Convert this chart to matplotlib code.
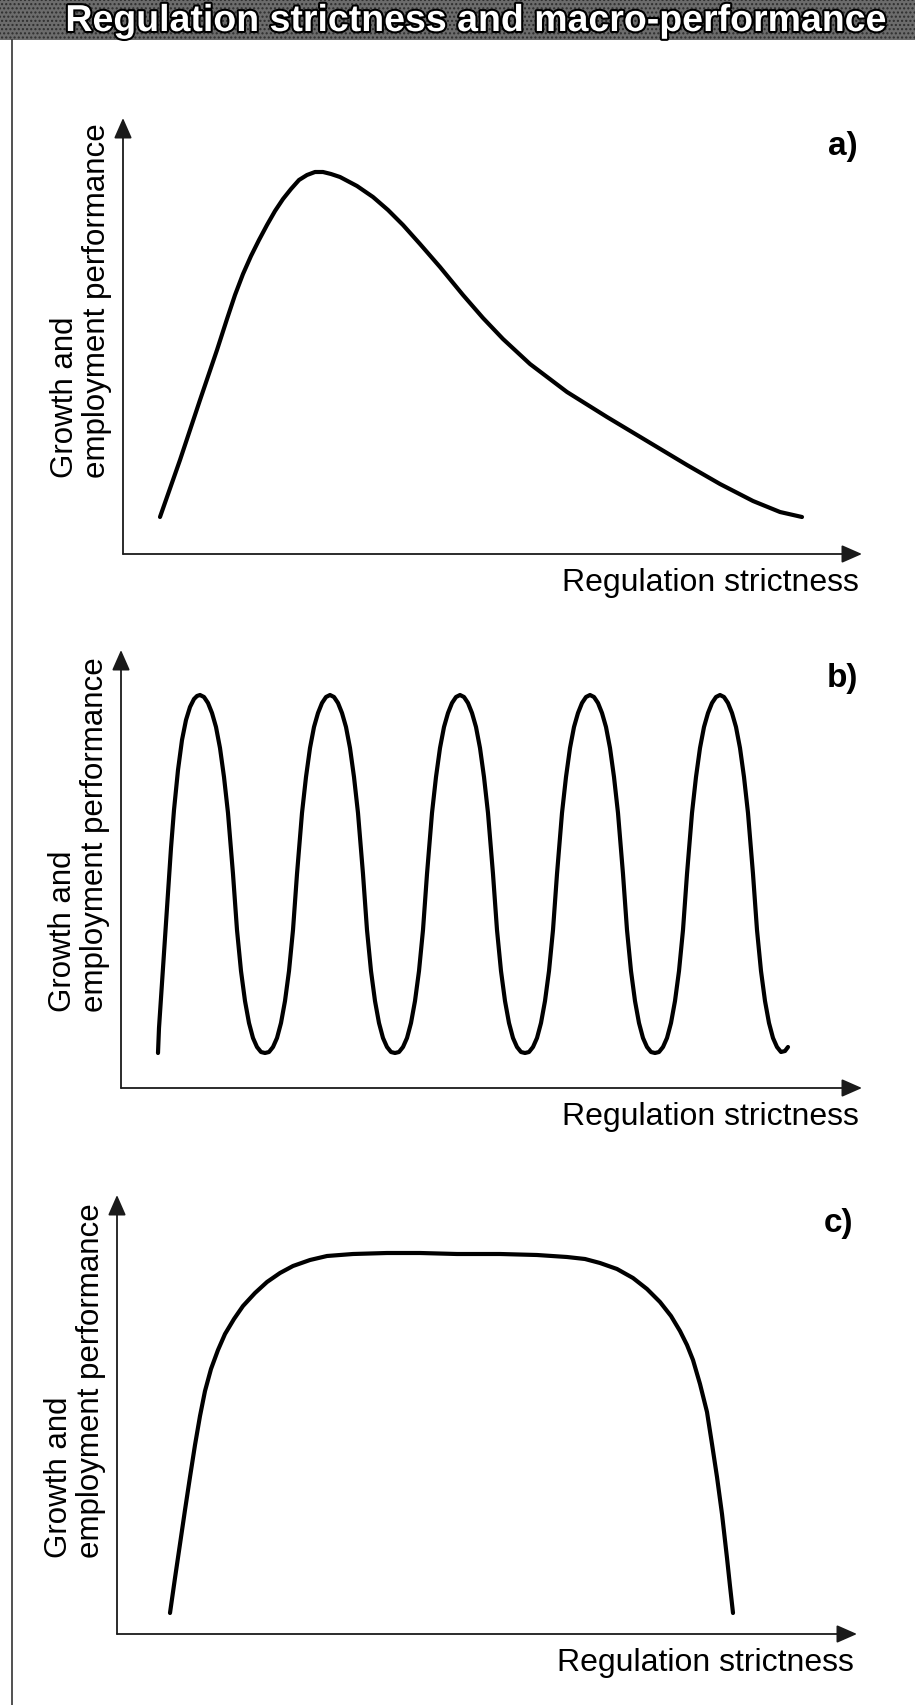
import matplotlib
matplotlib.use("Agg")
import matplotlib.pyplot as plt
import matplotlib.patheffects as pe
from matplotlib.patches import Rectangle
from matplotlib.lines import Line2D

plt.rcParams['font.family'] = ['Liberation Sans', 'DejaVu Sans']

W, H = 915, 1705

title = "Regulation strictness and macro-performance"
x_label = "Regulation strictness"
y_label = "Growth and\nemployment performance"
panel_names = ["a)", "b)", "c)"]

# curve a: rises fast, peaks early, long decline
a_x = [37, 57, 77, 94, 104, 112, 120, 128, 136, 144, 152, 160, 168, 176, 184,
       192, 200, 208, 217, 234, 250, 265, 280, 297, 317, 340, 360, 380, 407,
       444, 484, 524, 564, 597, 630, 657, 679]
a_y = [37, 94, 154, 204, 235, 259, 280, 298, 314, 329, 343, 355, 365, 374, 379,
       382, 382, 380, 377, 368, 357, 344, 329, 310, 287, 259, 236, 215, 190,
       162, 137, 113, 89, 70, 53, 42, 37]

# curve b: five up-and-down waves
b_x = [37, 38, 40, 42, 44, 47, 50, 53, 57, 61, 65, 69, 73, 76, 79,
       83, 87, 91, 95, 99, 103, 107, 112, 116, 120, 124, 128, 132, 136, 140, 144,
       148, 152, 156, 160, 164, 168, 172, 176, 181, 185, 189, 193, 197, 201, 205, 209,
       213, 217, 221, 225, 229, 233, 237, 242, 246, 250, 254, 258, 262, 266, 270, 274,
       278, 282, 286, 290, 294, 298, 302, 306, 311, 315, 319, 323, 327, 331, 335, 339,
       343, 347, 351, 355, 359, 363, 367, 372, 376, 380, 384, 388, 392, 396, 400, 404,
       408, 412, 416, 420, 424, 428, 432, 436, 441, 445, 449, 453, 457, 461, 465, 469,
       473, 477, 481, 485, 489, 493, 497, 502, 506, 510, 514, 518, 522, 526, 530, 534,
       538, 542, 546, 550, 554, 558, 562, 566, 571, 575, 579, 583, 587, 591, 595, 599,
       603, 607, 611, 615, 619, 623, 627, 632, 636, 640, 644, 648, 652, 656, 660, 664, 667]
b_y = [35, 60, 90, 120, 150, 195, 240, 278, 318, 348, 368, 381, 389, 392, 393,
       391, 385, 375, 361, 340, 311, 275, 214, 158, 117, 87, 65, 50, 41, 36, 35,
       36, 41, 50, 65, 87, 117, 158, 214, 275, 311, 340, 361, 375, 385, 391, 393,
       391, 385, 375, 361, 340, 311, 275, 214, 158, 117, 87, 65, 50, 41, 36, 35,
       36, 41, 50, 65, 87, 117, 158, 214, 275, 311, 340, 361, 375, 385, 391, 393,
       391, 385, 375, 361, 340, 311, 275, 214, 158, 117, 87, 65, 50, 41, 36, 35,
       36, 41, 50, 65, 87, 117, 158, 214, 275, 311, 340, 361, 375, 385, 391, 393,
       391, 385, 375, 361, 340, 311, 275, 214, 158, 117, 87, 65, 50, 41, 36, 35,
       36, 41, 50, 65, 87, 117, 158, 214, 275, 311, 340, 361, 375, 385, 391, 393,
       391, 385, 375, 361, 340, 311, 275, 214, 158, 117, 87, 65, 50, 41, 36, 37, 41]

# curve c: steep rise, long plateau, steep fall
c_x = [53, 58, 63, 68, 73, 78, 83, 88, 94, 101, 108, 117, 126, 138, 150, 163,
       176, 193, 210, 236, 270, 303, 340, 383, 420, 450, 468, 483, 500, 516,
       530, 543, 554, 563, 570, 576, 583, 590, 595, 600, 605, 610, 613, 616]
c_y = [21, 56, 90, 124, 157, 189, 218, 243, 265, 284, 300, 315, 328, 341, 352, 361,
       368, 374, 378, 380, 381, 381, 380, 380, 379, 377, 375, 371, 365, 356,
       345, 332, 318, 303, 289, 274, 250, 222, 190, 157, 120, 76, 48, 21]

fig = plt.figure(figsize=(W / 100, H / 100), dpi=100)
fig.patch.set_facecolor('white')

# title band
fig.patches.append(Rectangle((0, (H - 40) / H), 1, 40 / H, transform=fig.transFigure,
                             facecolor='#6c6c6c', edgecolor='#2e2e2e', hatch='....',
                             linewidth=0))
t = fig.text(476 / W, (H - 31) / H, title, ha='center', va='baseline', color='white',
             fontsize=27, fontweight='bold')
t.set_path_effects([pe.withStroke(linewidth=3, foreground='black')])

# left frame line
fig.add_artist(Line2D([12 / W, 12 / W], [0, (H - 40) / H], color='#222222', lw=1.1))


def draw_panel(ox, oy, tip_y, tip_x, xs, ys, name):
    pw, ph = 780, 470
    ax = fig.add_axes([ox / W, (H - oy) / H, pw / W, ph / H])
    ax.set_xlim(0, pw)
    ax.set_ylim(0, ph)
    ax.axis('off')
    arrow = dict(arrowstyle='-|>,head_length=0.5,head_width=0.22', color='#1a1a1a',
                 lw=1.3, mutation_scale=25, shrinkA=0, shrinkB=0)
    ax.annotate('', xy=(0, tip_y), xytext=(0, 0), arrowprops=arrow, annotation_clip=False)
    ax.annotate('', xy=(tip_x, 0), xytext=(0, 0), arrowprops=arrow, annotation_clip=False)
    ax.plot(xs, ys, color='black', lw=3.0, solid_capstyle='round', solid_joinstyle='round')
    ax.text(tip_x - 3, -14, x_label, ha='right', va='top', fontsize=23)
    ax.text(tip_x - 4, tip_y - 37, name, ha='right', va='baseline', fontsize=24,
            fontweight='bold')
    ax.text(-42, 76, y_label, rotation=90, rotation_mode='anchor', ha='left',
            va='center', multialignment='left', fontsize=22.5, linespacing=1.1)


draw_panel(123, 554, 436, 739, a_x, a_y, panel_names[0])
draw_panel(121, 1088, 438, 741, b_x, b_y, panel_names[1])
draw_panel(117, 1634, 439, 740, c_x, c_y, panel_names[2])

fig.savefig('out.png', dpi=100)
